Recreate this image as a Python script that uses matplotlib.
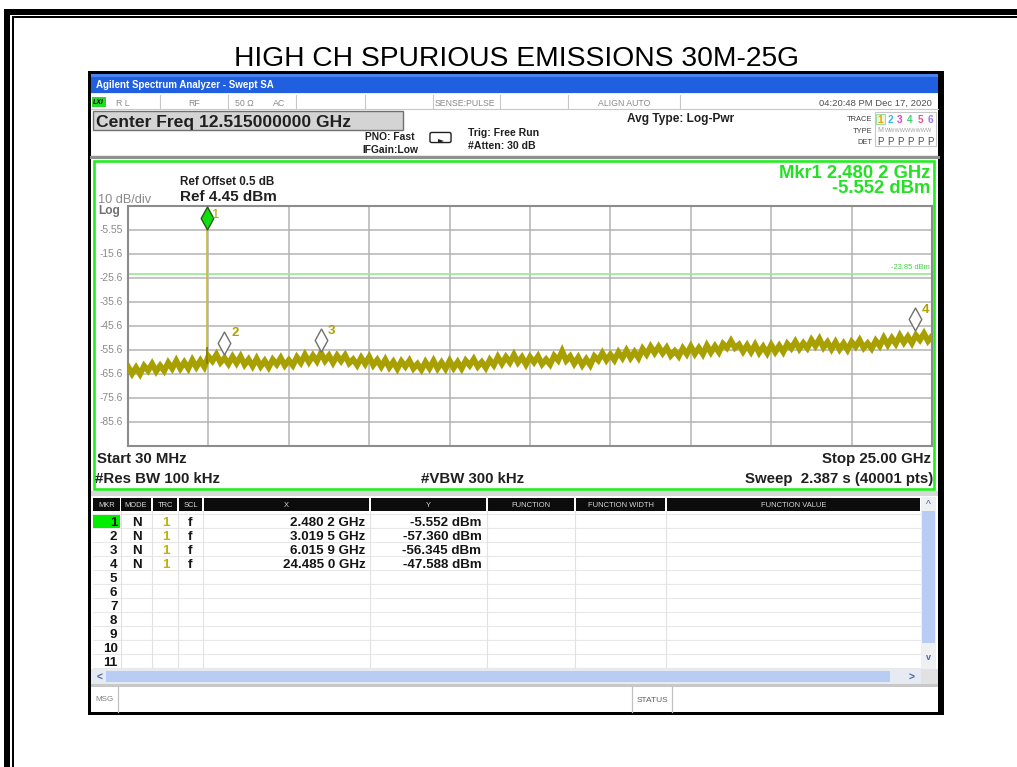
import numpy as np
import matplotlib
matplotlib.use("Agg")
import matplotlib.pyplot as plt
from matplotlib.patches import Rectangle, FancyBboxPatch, Polygon
from matplotlib.lines import Line2D
from matplotlib.path import Path
import matplotlib.transforms as mtransforms

plt.rcParams['font.family'] = ['Liberation Sans', 'DejaVu Sans']

W, H = 1017, 767

# ---------------- data ----------------
title = "HIGH CH SPURIOUS EMISSIONS 30M-25G"
start_ghz = 0.03
stop_ghz = 25.0
ref_level = 4.45
db_per_div = 10
display_line_dbm = -23.85
y_labels = ["-5.55", "-15.6", "-25.6", "-35.6", "-45.6", "-55.6", "-65.6", "-75.6", "-85.6"]

# trace samples (dBm), evenly spaced from start to stop
trace_dbm = [
    -62.6, -65.6, -63.0, -65.7, -62.3, -64.3, -61.5, -64.6,
    -62.2, -64.4, -61.0, -63.4, -60.2, -63.4, -60.8, -63.4,
    -59.9, -62.8, -60.1, -62.7, -58.3, -60.3, -57.6, -60.9,
    -59.0, -61.5, -58.5, -61.2, -58.4, -61.8, -59.6, -62.4,
    -59.3, -62.5, -60.2, -62.9, -59.7, -61.7, -59.0, -62.1,
    -59.9, -62.1, -58.7, -61.0, -57.7, -60.7, -58.0, -60.4,
    -56.9, -60.2, -58.0, -61.0, -58.0, -60.3, -57.9, -61.2,
    -59.6, -62.0, -58.9, -61.5, -58.6, -62.0, -59.8, -62.6,
    -59.7, -62.9, -60.6, -63.5, -60.4, -62.6, -60.1, -63.4,
    -61.5, -63.9, -60.7, -63.3, -60.2, -63.4, -60.9, -63.5,
    -60.2, -63.2, -60.7, -63.4, -60.1, -62.1, -59.5, -62.6,
    -60.7, -63.1, -59.8, -62.0, -58.6, -61.4, -58.6, -60.9,
    -57.7, -60.9, -58.7, -61.7, -58.6, -60.8, -58.3, -61.6,
    -59.6, -61.7, -58.1, -60.0, -56.2, -60.1, -58.3, -61.4,
    -58.8, -62.0, -59.5, -62.0, -58.3, -60.0, -57.0, -59.9,
    -57.6, -59.9, -56.6, -59.0, -55.9, -59.0, -56.5, -59.0,
    -55.2, -57.5, -54.3, -56.9, -54.3, -57.0, -54.7, -58.0,
    -56.1, -58.3, -55.0, -57.4, -54.2, -57.3, -54.8, -57.4,
    -53.8, -56.7, -54.1, -56.6, -53.1, -54.8, -51.9, -54.8,
    -53.4, -56.3, -53.7, -56.5, -53.5, -56.8, -54.3, -57.0,
    -53.6, -56.5, -53.9, -56.5, -53.1, -55.0, -52.2, -55.2,
    -52.8, -54.9, -51.5, -54.0, -51.1, -54.6, -52.4, -55.3,
    -52.4, -55.4, -52.9, -55.6, -52.3, -54.3, -51.6, -54.8,
    -52.9, -55.1, -51.8, -54.0, -50.6, -53.5, -50.7, -53.1,
    -49.7, -52.6, -50.1, -52.8, -49.5, -51.5, -48.8, -51.9, -49.9,
]

marker_ids = ["1", "2", "3", "4"]
marker_freq_ghz = [2.4802, 3.0195, 6.0159, 24.4850]
marker_dbm = [-5.552, -57.360, -56.345, -47.588]
marker_x_text = ["2.480 2 GHz", "3.019 5 GHz", "6.015 9 GHz", "24.485 0 GHz"]
marker_y_text = ["-5.552 dBm", "-57.360 dBm", "-56.345 dBm", "-47.588 dBm"]
marker_mode = ["N", "N", "N", "N"]
marker_trc = ["1", "1", "1", "1"]
marker_scl = ["f", "f", "f", "f"]
table_rows = [str(i) for i in range(1, 12)]
table_headers = ["MKR", "MODE", "TRC", "SCL", "X", "Y", "FUNCTION", "FUNCTION WIDTH", "FUNCTION VALUE"]
trace_numbers = ["1", "2", "3", "4", "5", "6"]
trace_num_colors = ["#f0a000", "#30b8f0", "#e040c0", "#40d070", "#f05088", "#9878f0"]

TRACE_COLOR = "#a8a000"

# ---------------- helpers ----------------
fig = plt.figure(figsize=(W / 100, H / 100), dpi=100)
fig.patch.set_facecolor("white")


def R(x0, y0, x1, y1, fc, ec="none", lw=0, z=1):
    fig.add_artist(Rectangle((x0 / W, 1 - y1 / H), (x1 - x0) / W, (y1 - y0) / H,
                             transform=fig.transFigure, facecolor=fc,
                             edgecolor=ec, linewidth=lw, zorder=z))


def L(xs, ys, color, lw, z=2):
    fig.add_artist(Line2D([x / W for x in xs], [1 - y / H for y in ys],
                          transform=fig.transFigure, color=color,
                          linewidth=lw, zorder=z))


def T(x, y, s, size, color="black", weight="normal", ha="left", **kw):
    # y = vertical centre of capitals (pixels from top)
    base = y + 0.36 * size * 100 / 72
    fig.text(x / W, 1 - base / H, s, fontsize=size, color=color,
             fontweight=weight, ha=ha, va="baseline", zorder=6, **kw)


# ---------------- page border ----------------
R(4, 9, W + 5, 15, "black")
R(4, 9, 10, H + 5, "black")
R(12, 16, W + 5, 18, "black")
R(12, 16, 14, H + 5, "black")

T(516, 55.5, title, 20.3, color="black", ha="center")

# ---------------- screenshot frame ----------------
R(88, 71, 944, 715, "black")
R(91, 74, 938, 712, "#ececec")

# title bar
R(91, 74, 938, 93, "#1f5fe0")
R(91, 74, 938, 77, "#4a84f0")
T(96, 84, "Agilent Spectrum Analyzer - Swept SA", 7, color="white", weight="bold")

# status row
R(91, 94, 938, 109, "white")
L([91, 938], [109, 109], "#c8c8c8", 0.8)
R(92, 97, 106, 107, "#22dd22")
T(93, 102, "LXI", 5, color="black", weight="bold", style="italic")
for sx in [160, 228, 296, 365, 433, 500, 568, 680]:
    L([sx, sx], [95, 108], "#c8c8c8", 0.8)
T(116, 102.5, "R L", 6.3, color="#8a8a8a")
T(188, 102.5, "RF", 6.3, color="#8a8a8a")
T(235, 102.5, "50 \u03a9", 6.3, color="#8a8a8a")
T(273, 102.5, "AC", 6.3, color="#8a8a8a")
T(435, 102.5, "SENSE:PULSE", 6.3, color="#8a8a8a")
T(598, 102.5, "ALIGN AUTO", 6.3, color="#8a8a8a")
T(932, 102.5, "04:20:48 PM Dec 17, 2020", 6.8, color="#505050", ha="right")

# second row
R(91, 110, 938, 155, "white")
R(93, 111, 403, 130, "#d4d4d4", ec="#707070", lw=1.0)
T(96, 120.5, "Center Freq 12.515000000 GHz", 12.6, weight="bold", color="#202020")
T(390, 136, "PNO: Fast", 7.4, weight="bold", ha="center", color="#202020")
T(390, 149, "IFGain:Low", 7.4, weight="bold", ha="center", color="#202020")
fig.add_artist(FancyBboxPatch((432 / W, 1 - 141 / H), 17 / W, 7 / H,
                              boxstyle="round,pad=0.002",
                              transform=fig.transFigure, facecolor="white",
                              edgecolor="#202020", linewidth=1.0, zorder=3))
fig.add_artist(Polygon([(438 / W, 1 - 139 / H), (444 / W, 1 - 141 / H), (438 / W, 1 - 143 / H)],
                       closed=True, transform=fig.transFigure, facecolor="#202020",
                       edgecolor="none", zorder=4))
T(468, 132, "Trig: Free Run", 7.6, weight="bold", color="#202020")
T(468, 145.5, "#Atten: 30 dB", 7.6, weight="bold", color="#202020")
T(627, 118, "Avg Type: Log-Pwr", 8.6, weight="bold", color="#202020")
T(872, 118, "TRACE", 5.4, color="#404040", ha="right")
T(872, 130, "TYPE", 5.4, color="#404040", ha="right")
T(872, 141.5, "DET", 5.4, color="#404040", ha="right")
R(875, 112, 936, 146, "white", ec="#c8c8c8", lw=0.8)
R(876, 113.5, 884.5, 124, "#e8f8e0", ec="#90d890", lw=0.6, z=2)
for i, (num, col) in enumerate(zip(trace_numbers, trace_num_colors)):
    xx = 880 + 10 * i
    T(xx, 119, num, 7.2, color=col, weight="bold", ha="center")
    T(xx, 141.5, "P", 7.0, color="#505050", ha="center")
T(877, 130, "M", 5.0, color="#a0a0a0")
T(885, 130, "WWWWWWWWW", 4.0, color="#a0a0a0")

L([91, 938], [156.5, 156.5], "#909090", 2.2)

# ---------------- plot panel ----------------
R(91, 158, 938, 491, "white")
R(94, 161, 934, 489, "none", ec="#22ee22", lw=1.9, z=3)

T(180, 180.5, "Ref Offset 0.5 dB", 8.4, weight="bold", color="#202020")
T(180, 195.5, "Ref 4.45 dBm", 11.0, weight="bold", color="#202020")
T(98, 198.5, "10 dB/div", 9.2, color="#8a8a8a")
T(98, 209.5, "Log", 8.6, color="#707070", weight="bold")
T(930, 171.5, "Mkr1 2.480 2 GHz", 13.2, weight="bold", color="#22e022", ha="right")
T(930, 186.5, "-5.552 dBm", 13.2, weight="bold", color="#22e022", ha="right")

T(97, 457.5, "Start 30 MHz", 10.8, weight="bold", color="#202020")
T(95, 477.5, "#Res BW 100 kHz", 10.8, weight="bold", color="#202020")
T(473, 477.5, "#VBW 300 kHz", 10.8, weight="bold", color="#202020", ha="center")
T(931, 457.5, "Stop 25.00 GHz", 10.8, weight="bold", color="#202020", ha="right")
T(933, 477.5, "Sweep  2.387 s (40001 pts)", 10.8, weight="bold", color="#202020", ha="right")

# graticule axes
gx0, gx1, gy0, gy1 = 128, 932, 206, 445.5
ax = fig.add_axes([gx0 / W, 1 - gy1 / H, (gx1 - gx0) / W, (gy1 - gy0) / H])
ax.set_zorder(5)
ax.set_facecolor("white")
ymin = ref_level - 10 * db_per_div
ax.set_xlim(start_ghz, stop_ghz)
ax.set_ylim(ymin, ref_level)
ax.set_xticks(np.linspace(start_ghz, stop_ghz, 11))
ax.set_yticks(ref_level - db_per_div * np.arange(11))
ax.grid(True, color="#b4b4b4", linewidth=1.1)
ax.tick_params(length=0, labelbottom=False, labelleft=False)
for sp in ax.spines.values():
    sp.set_color("#8c8c8c")
    sp.set_linewidth(1.5)

ylab_trans = mtransforms.blended_transform_factory(ax.transAxes, ax.transData)
for i, lab in enumerate(y_labels):
    ax.text(-0.006, ref_level - db_per_div * (i + 1), lab, transform=ylab_trans,
            ha="right", va="center", fontsize=7.4, color="#8a8a8a", clip_on=False)

# display line
ax.axhline(display_line_dbm, color="#96e896", linewidth=1.2, zorder=2)
ax.text(0.997, display_line_dbm + 1.2, "-23.85 dBm", transform=ylab_trans,
        ha="right", va="bottom", fontsize=5.4, color="#40d040")

# trace
freqs = np.linspace(start_ghz, stop_ghz, len(trace_dbm))
ax.plot(freqs, trace_dbm, color=TRACE_COLOR, linewidth=4.2, zorder=3,
        solid_joinstyle="miter")
# carrier spike (marker 1)
ax.plot([marker_freq_ghz[0]] * 2, [-59.5, marker_dbm[0]], color="#c8bc38",
        linewidth=1.2, zorder=3)
ax.plot([marker_freq_ghz[0]] * 2, [-61.0, -55.0], color="#8a8200",
        linewidth=1.4, zorder=3)

# markers
diamond = Path([(0, -1), (0.55, 0), (0, 1), (-0.55, 0), (0, -1)],
               [Path.MOVETO, Path.LINETO, Path.LINETO, Path.LINETO, Path.CLOSEPOLY])
mk_trans = mtransforms.offset_copy(ax.transData, fig=fig, x=0, y=11.5, units="dots")
for i, (mid, f, v) in enumerate(zip(marker_ids, marker_freq_ghz, marker_dbm)):
    if i == 0:
        fc, ec = "#10e010", "#2a5a10"
        lab_dx, lab_dy = 8.5, 15
    else:
        fc, ec = "white", "#707070"
        lab_dx, lab_dy = 10.5, 21
    ax.plot([f], [v], marker=diamond, markersize=16.5, markerfacecolor=fc,
            markeredgecolor=ec, markeredgewidth=1.0, linestyle="none",
            transform=mk_trans, zorder=6, clip_on=False)
    lab_trans = mtransforms.offset_copy(ax.transData, fig=fig, x=lab_dx, y=lab_dy, units="dots")
    ax.text(f, v, mid, transform=lab_trans, fontsize=9.5, color="#b0a000",
            fontweight="bold" if i > 0 else "normal", ha="center", va="center",
            zorder=7, clip_on=False)

# ---------------- marker table ----------------
R(91, 491, 938, 496, "#d8d8d8")
R(91, 496, 938, 684, "white")
col_edges = [(93, 120), (121, 151), (153, 177), (179, 202), (204, 369),
             (371, 486), (488, 574), (576, 665), (667, 920)]
for (c0, c1), hd in zip(col_edges, table_headers):
    R(c0, 497.5, c1, 511, "#0c0c0c", z=2)
    T((c0 + c1) / 2, 504.5, hd, 5.4, color="#d8d8d8", ha="center")

row_y = [521 + 14 * i for i in range(11)]
for i in range(12):
    L([93, 920], [514 + 14 * i, 514 + 14 * i], "#e8e8e8", 0.8)
for sx in [120.5, 152, 178, 203, 370, 487, 575, 666]:
    L([sx, sx], [511, 669], "#e2e2e2", 0.8)
R(93, 514.5, 120, 527.5, "#00ee00", z=2)

for i, lab in enumerate(table_rows):
    T(117.5, row_y[i], lab, 9.6, weight="bold", color="#151515", ha="right")
for i in range(len(marker_ids)):
    yy = row_y[i]
    T(137, yy, marker_mode[i], 9.6, weight="bold", color="#151515", ha="center")
    T(165.5, yy, marker_trc[i], 9.6, weight="bold", color="#c0b400", ha="center")
    T(190.5, yy, marker_scl[i], 9.6, weight="bold", color="#151515", ha="center")
    T(365.5, yy, marker_x_text[i], 9.6, weight="bold", color="#151515", ha="right")
    T(481.5, yy, marker_y_text[i], 9.6, weight="bold", color="#151515", ha="right")

# vertical scrollbar
R(921, 497, 936, 669, "#eef0f2", z=2)
R(922, 511, 934.5, 643, "#b8ccf4", z=2)
T(928.5, 504.5, "^", 7.5, color="#4868a8", ha="center")
T(928.5, 657, "v", 6.5, color="#4868a8", ha="center", weight="bold")
# horizontal scrollbar
R(91, 669, 921, 684, "#e6eaf2", z=2)
R(106, 671, 890, 682, "#b8ccf4", z=2)
R(921, 669, 938, 684, "#e2e2e2", z=2)
T(100, 676.5, "<", 7.5, color="#4868a8", ha="center", weight="bold")
T(912, 676.5, ">", 7.5, color="#4868a8", ha="center", weight="bold")

# MSG / STATUS bar
R(91, 684, 938, 687, "#c8c8c8")
R(91, 687, 938, 712, "white")
L([118, 118], [687, 712], "#c0c0c0", 0.9)
L([632, 632], [687, 712], "#c0c0c0", 0.9)
L([672, 672], [687, 712], "#c0c0c0", 0.9)
T(95, 698.5, "MSG", 5.8, color="#808080")
T(652, 698.5, "STATUS", 6.0, color="#606060", ha="center")

fig.savefig("out.png", dpi=100)
